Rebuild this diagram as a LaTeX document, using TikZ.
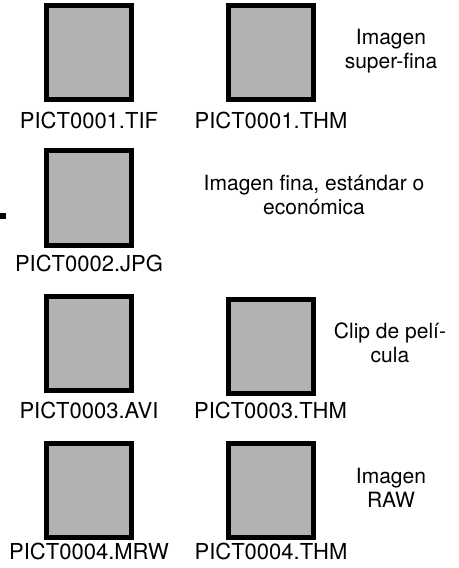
\documentclass[tikz,border=0pt]{standalone}
\usepackage{fontspec}
\setmainfont{TeX Gyre Heros}
\definecolor{boxgray}{gray}{0.70}
\begin{document}
\begin{tikzpicture}[x=1bp,y=-1bp,
  filebox/.style={draw=black,fill=boxgray,line width=5bp,inner sep=0pt,outer sep=0pt,
    minimum width=85bp,minimum height=94bp},
  fname/.style={anchor=base,inner sep=0pt,font=\fontsize{22bp}{24bp}\selectfont},
  descr/.style={anchor=base,inner sep=0pt,align=center,font=\fontsize{21bp}{24bp}\selectfont}]
\useasboundingbox (0,0) rectangle (459,568);
% boxes
\node[filebox] (b1) at (89,52.5) {};
\node[filebox] (b2) at (271,52.5) {};
\node[filebox] (b3) at (89,198) {};
\node[filebox] (b4) at (89,343.5) {};
\node[filebox] (b5) at (270.5,346.5) {};
\node[filebox] (b6) at (89,490) {};
\node[filebox] (b7) at (271,490) {};
% file names
\node[fname] (l1) at (89,129) {PICT0001.TIF};
\node[fname] (l2) at (271,129) {PICT0001.THM};
\node[fname] (l3) at (89,271) {PICT0002.JPG};
\node[fname] (l4) at (89,418) {PICT0003.AVI};
\node[fname] (l5) at (270.5,418) {PICT0003.THM};
\node[fname] (l6) at (89,559) {PICT0004.MRW};
\node[fname] (l7) at (271,559) {PICT0004.THM};
% descriptions (base = last line)
\node[descr] (d1) at (391,69) {Imagen\\super-fina};
\node[descr] (d2) at (314,214) {Imagen fina, estándar o\\económica};
\node[descr] (d3) at (390,362) {Clip de pelí-\\cula};
\node[descr] (d4) at (391,507) {Imagen\\RAW};
% dash mark
\fill[black] (0,213) rectangle (6,219);
\end{tikzpicture}
\end{document}
